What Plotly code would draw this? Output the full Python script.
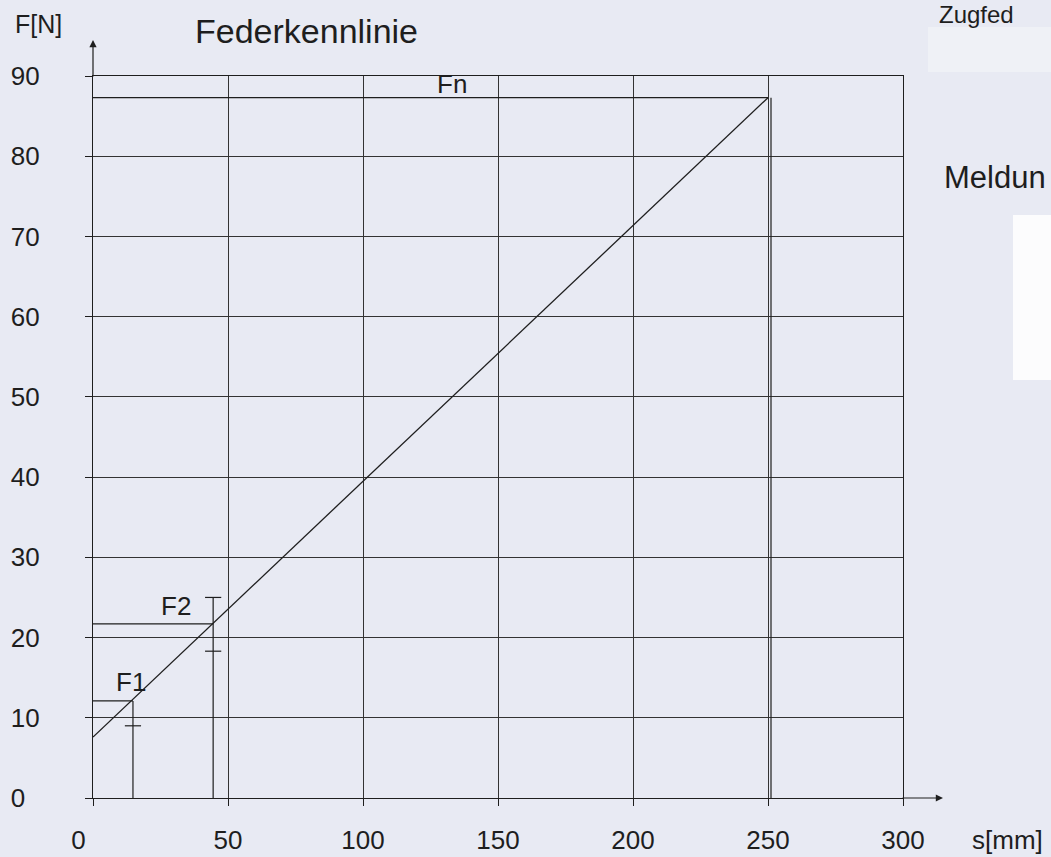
import plotly.graph_objects as go

# --- data ---
s_line = [0, 250]          # spring travel s [mm]
F_line = [7.6, 87.3]       # spring force F [N]

s1, F1, F1_min = 14.8, 12.1, 9.0
s2, F2, F2_min, F2_max = 44.5, 21.7, 18.3, 25.0
sn, Fn = 250, 87.3

x_ticks = [0, 50, 100, 150, 200, 250, 300]
x_text = ["0\u2007\u2007", "50", "100", "150", "200", "250", "300"]
y_ticks = [0, 10, 20, 30, 40, 50, 60, 70, 80, 90]
y_text = ["0\u2007", "10", "20", "30", "40", "50", "60", "70", "80", "90"]

BG = "#e8eaf3"
INK = "#1e1e1e"
GRID = "#333333"
FONT = "Liberation Sans, Arial, sans-serif"

fig = go.Figure()
fig.add_trace(go.Scatter(x=s_line, y=F_line, mode="lines",
                         line=dict(color=INK, width=1.3),
                         hoverinfo="skip", showlegend=False))

shapes = []
def seg(x0, y0, x1, y1, w=1.2, c=INK):
    shapes.append(dict(type="line", xref="x", yref="y", x0=x0, y0=y0, x1=x1, y1=y1,
                       line=dict(color=c, width=w)))

# F1 marks
seg(0, F1, s1, F1)
seg(s1, 0, s1, F1)
seg(s1 - 3, F1_min, s1 + 3, F1_min)
# F2 marks
seg(0, F2, s2, F2)
seg(s2, 0, s2, F2_max)
seg(s2 - 3, F2_max, s2 + 3, F2_max)
seg(s2 - 3, F2_min, s2 + 3, F2_min)
# Fn marks
seg(0, Fn, sn, Fn)
shapes.append(dict(type="line", xref="x", yref="y", xsizemode="pixel", xanchor=sn,
                   x0=3, x1=3, y0=0, y1=Fn, line=dict(color=INK, width=1.2)))
# faint patch and white box on the right
shapes.append(dict(type="rect", xref="paper", yref="paper",
                   x0=(928 - 93) / 810, x1=1.2, y0=(798 - 72) / 722, y1=(798 - 27) / 722,
                   line=dict(width=0), fillcolor="#eff1f6", layer="below"))
shapes.append(dict(type="rect", xref="paper", yref="paper",
                   x0=(1013 - 93) / 810, x1=1.2, y0=(798 - 380) / 722, y1=(798 - 215) / 722,
                   line=dict(width=0), fillcolor="#fcfcfd", layer="below"))

ann = []
def txt(x, y, t, size=26, xref="paper", yref="paper", **kw):
    d = dict(x=x, y=y, xref=xref, yref=yref, text=t, showarrow=False,
             font=dict(family=FONT, size=size, color=INK))
    d.update(kw)
    ann.append(d)

txt(s1, F1, "F1", size=26, xref="x", yref="y", xanchor="center", yanchor="bottom", xshift=-2, yshift=2)
txt(s2, F2, "F2", size=26, xref="x", yref="y", xanchor="right", yanchor="bottom", xshift=-20, yshift=1)
txt(133, Fn, "Fn", size=26, xref="x", yref="y", xanchor="center", yanchor="bottom", yshift=-3)

txt((193 - 93) / 810, 1 + (76 - 31) / 722, "Federkennlinie", size=34, xanchor="left", yanchor="middle")
txt((38 - 93) / 810, 1 + (76 - 24) / 722, "F[N]", size=25, xanchor="center", yanchor="middle")
txt((1007 - 93) / 810, (798 - 840) / 722, "s[mm]", size=26, xanchor="center", yanchor="middle")
txt((938 - 93) / 810, 1 + (76 - 0) / 722, "Zugfed", size=24, xanchor="left", yanchor="top",
    borderpad=0)
txt((942 - 93) / 810, (798 - 177) / 722, "Meldun", size=31, xanchor="left", yanchor="middle")

# axis arrows
ann.append(dict(xref="paper", yref="paper", x=0, y=1 + (76 - 40) / 722, ax=0, ay=38,
                axref="pixel", ayref="pixel", showarrow=True, arrowhead=2, arrowsize=1.2,
                arrowwidth=1.2, arrowcolor=INK, text=""))
ann.append(dict(xref="paper", yref="paper", x=(943 - 93) / 810, y=0, ax=-42, ay=0,
                axref="pixel", ayref="pixel", showarrow=True, arrowhead=2, arrowsize=1.2,
                arrowwidth=1.2, arrowcolor=INK, text=""))

fig.update_layout(
    width=1051, height=857,
    margin=dict(l=93, r=148, t=76, b=59, autoexpand=False),
    paper_bgcolor=BG, plot_bgcolor=BG,
    shapes=shapes, annotations=ann,
    showlegend=False,
    font=dict(family=FONT, color=INK),
)
fig.update_xaxes(range=[0, 300], tickvals=x_ticks, ticktext=x_text, automargin=False,
                 showgrid=True, gridcolor=GRID, gridwidth=1.2,
                 showline=True, linecolor=INK, linewidth=1.3, mirror=True,
                 zeroline=False, ticks="outside", ticklen=7, tickcolor=INK,
                 ticklabelstandoff=12, tickfont=dict(family=FONT, size=26, color=INK))
fig.update_yaxes(range=[0, 90], tickvals=y_ticks, ticktext=y_text, automargin=False,
                 showgrid=True, gridcolor=GRID, gridwidth=1.2,
                 showline=True, linecolor=INK, linewidth=1.3, mirror=True,
                 zeroline=False, ticks="outside", ticklen=7, tickcolor=INK,
                 ticklabelstandoff=40, tickfont=dict(family=FONT, size=26, color=INK))

fig.write_html("out.html", config={"displayModeBar": False},
               post_script="document.body.style.margin='0';document.body.style.overflow='hidden';"
                           "document.body.style.background='" + BG + "';")
